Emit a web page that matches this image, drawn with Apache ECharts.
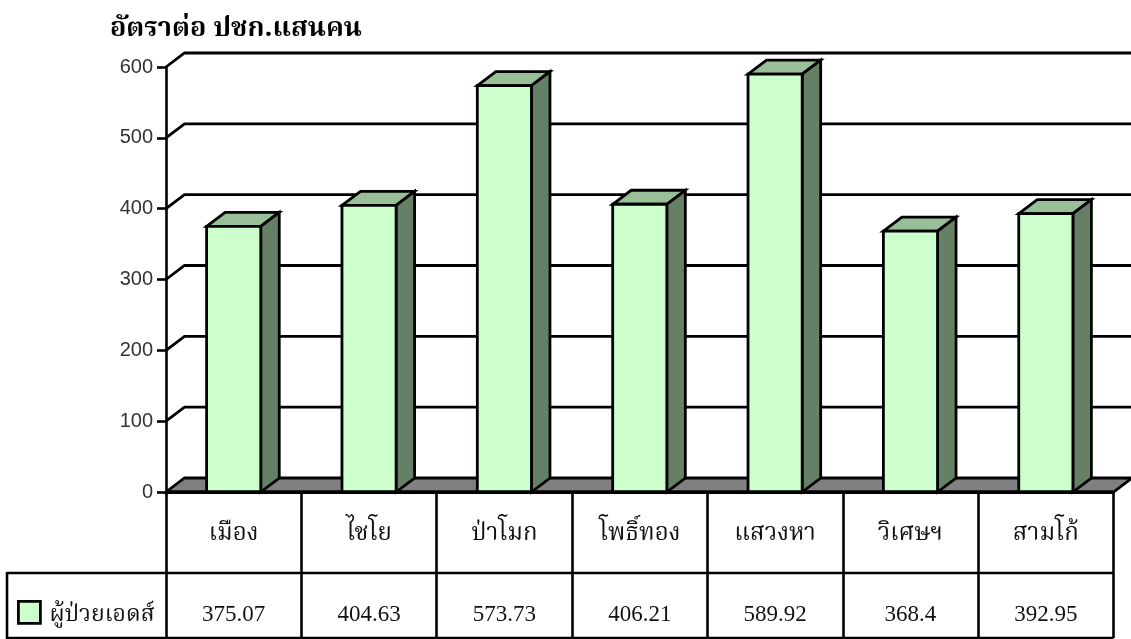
<!DOCTYPE html>
<html>
<head>
<meta charset="utf-8">
<style>
html, body { margin: 0; padding: 0; background: #fff; }
#main { width: 1131px; height: 639px; }
</style>
<script src="https://cdn.jsdelivr.net/npm/echarts@6/dist/echarts.min.js"></script>
</head>
<body>
<div id="main"></div>
<script>
var categories = ["เมือง", "ไชโย", "ป่าโมก", "โพธิ์ทอง", "แสวงหา", "วิเศษฯ", "สามโก้"];
var values = [375.07, 404.63, 573.73, 406.21, 589.92, 368.4, 392.95];
var yTicks = [0, 100, 200, 300, 400, 500, 600];
var seriesName = "ผู้ป่วยเอดส์";
var titleText = "อัตราต่อ ปชก.แสนคน";

var thaiFont = '"Noto Serif Thai","Noto Sans Thai","Liberation Serif",serif';
var depthX = 18.5, depthY = -14;
var lineW = 2.8;

var chart = echarts.init(document.getElementById("main"), null, { renderer: "canvas" });

function poly(points, fill) {
  return { type: "polygon", shape: { points: points }, style: { fill: fill, stroke: "#000", lineWidth: lineW, lineJoin: "miter" } };
}

// floor and the lines on the back wall
function renderBack(params, api) {
  var p0 = api.coord([0, 0]);
  var half = api.size([1, 0])[0] / 2;
  var left = p0[0] - half;
  var right = left + half * 2 * categories.length;
  var kids = [poly([[left, p0[1]], [left + depthX, p0[1] + depthY], [right + depthX, p0[1] + depthY], [right, p0[1]]], "#808080")];
  yTicks.slice(1).forEach(function (t) {
    var y = api.coord([0, t])[1];
    kids.push({
      type: "polyline",
      shape: { points: [[left, y], [left + depthX, y + depthY], [right + depthX, y + depthY]] },
      style: { fill: null, stroke: "#000", lineWidth: lineW }
    });
  });
  return { type: "group", children: kids };
}

function renderBar(params, api) {
  var top = api.coord([api.value(0), api.value(1)]);
  var base = api.coord([api.value(0), 0]);
  var w = api.size([1, 0])[0] * 0.4;
  var l = top[0] - w / 2, r = top[0] + w / 2;
  return {
    type: "group",
    children: [
      poly([[l, top[1]], [l + depthX, top[1] + depthY], [r + depthX, top[1] + depthY], [r, top[1]]], "#99BF99"),
      poly([[r, top[1]], [r + depthX, top[1] + depthY], [r + depthX, base[1] + depthY], [r, base[1]]], "#668066"),
      poly([[l, top[1]], [r, top[1]], [r, base[1]], [l, base[1]]], "#CCFFCC")
    ]
  };
}

// data table under the plot
function renderTable(params, api) {
  var p = api.coord([api.value(0), 0]);
  return {
    type: "text",
    style: {
      text: String(api.value(1)), x: p[0], y: p[1] + 123,
      align: "center", verticalAlign: "middle",
      font: '23px "Liberation Serif",serif', fill: "#111"
    }
  };
}

var data = categories.map(function (c, i) { return [i, values[i]]; });

chart.setOption({
  animation: false,
  title: {
    text: titleText, left: 105, top: 13,
    textStyle: { fontFamily: thaiFont, fontSize: 27, fontWeight: "bold", color: "#000" }
  },
  legend: {
    left: 17, top: 600, padding: 0, itemWidth: 22, itemHeight: 22, itemGap: 0,
    icon: "rect",
    data: [{ name: seriesName, itemStyle: { color: "#CCFFCC", borderColor: "#000", borderWidth: 2.8 } }],
    selectedMode: false,
    formatter: "{t|{name}}",
    textStyle: {
      rich: { t: { fontFamily: thaiFont, fontSize: 23, color: "#111", padding: [9, 0, 0, 4] } }
    }
  },
  grid: { left: 166, top: 67, width: 947.5, height: 425, containLabel: false },
  xAxis: {
    type: "category",
    data: categories,
    axisLine: { show: true, lineStyle: { color: "#000", width: 3 } },
    axisTick: { show: true, length: 146, lineStyle: { color: "#000", width: 2.6 } },
    axisLabel: { interval: 0, margin: 44, verticalAlign: "middle", fontFamily: thaiFont, fontSize: 24, color: "#111", hideOverlap: false }
  },
  yAxis: {
    type: "value",
    min: 0, max: 600, interval: 100,
    axisLine: { show: true, lineStyle: { color: "#000", width: 2.6 } },
    axisTick: { show: true, length: 9, lineStyle: { color: "#000", width: 2.6 } },
    axisLabel: { margin: 13, fontFamily: '"Liberation Sans",Arial,sans-serif', fontSize: 20, color: "#333" },
    splitLine: { show: false }
  },
  series: [
    { type: "custom", name: "back", coordinateSystem: "cartesian2d", clip: false, silent: true, z: 1, data: [[0, 0]], renderItem: renderBack, encode: { x: 0, y: 1 } },
    { type: "custom", name: seriesName, coordinateSystem: "cartesian2d", clip: false, silent: true, z: 2, data: data, renderItem: renderBar, encode: { x: 0, y: 1 }, itemStyle: { color: "#CCFFCC" } },
    { type: "custom", name: "table", coordinateSystem: "cartesian2d", clip: false, silent: true, z: 3, data: data, renderItem: renderTable, encode: { x: 0, y: 1 } }
  ],
  graphic: [
    { type: "line", z: 10, shape: { x1: 7, y1: 573, x2: 1113.5, y2: 573 }, style: { stroke: "#000", lineWidth: 2.6 } },
    { type: "line", z: 10, shape: { x1: 166, y1: 492, x2: 1113.5, y2: 492 }, style: { stroke: "#000", lineWidth: 3 } },
    { type: "line", z: 10, shape: { x1: 7, y1: 638, x2: 1113.5, y2: 638 }, style: { stroke: "#000", lineWidth: 2.6 } },
    { type: "line", z: 10, shape: { x1: 7, y1: 572, x2: 7, y2: 639 }, style: { stroke: "#000", lineWidth: 2.6 } }
  ]
});
</script>
</body>
</html>
